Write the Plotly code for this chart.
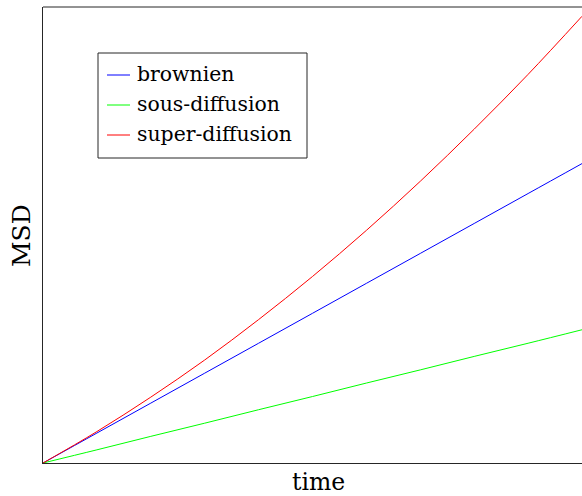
import plotly.graph_objects as go

# Mean squared displacement vs time for three diffusion regimes
time = [0, 1, 2, 3, 4, 5, 6, 7, 8, 9, 10]
msd_brownien = [0, 1.0, 2.0, 3.0, 4.0, 5.0, 6.0, 7.0, 8.0, 9.0, 10.0]
msd_sous = [0, 0.44, 0.89, 1.33, 1.78, 2.22, 2.67, 3.11, 3.56, 4.0, 4.45]
msd_super = [0, 1.05, 2.20, 3.44, 4.79, 6.23, 7.77, 9.41, 11.15, 12.98, 14.92]

series_names = ["brownien", "sous-diffusion", "super-diffusion"]
series_colors = ["#0000ff", "#00ff00", "#ff0000"]
series_values = [msd_brownien, msd_sous, msd_super]

W, H = 582, 496
ML, MR, MT, MB = 43, 0, 7, 33
PW, PH = W - ML - MR, H - MT - MB
FONT = "DejaVu Serif"
FRAME = "#262626"


def px_x(px):
    return (px - ML) / PW


def px_y(py):
    return (H - MB - py) / PH


fig = go.Figure()
for name, color, vals in zip(series_names, series_colors, series_values):
    fig.add_trace(go.Scatter(
        x=time, y=vals, mode="lines", name=name,
        line=dict(color=color, width=1, shape="spline"),
        showlegend=False, hoverinfo="skip",
    ))

shapes = [
    # top edge of the frame
    dict(type="line", xref="paper", yref="paper", x0=0, x1=1, y0=1, y1=1,
         line=dict(color=FRAME, width=1)),
    # legend box
    dict(type="rect", xref="paper", yref="paper",
         x0=px_x(98), x1=px_x(307), y0=px_y(53), y1=px_y(158),
         line=dict(color=FRAME, width=1), fillcolor="white"),
]
annotations = []
row_y = [75, 105, 135]
for name, color, ry in zip(series_names, series_colors, row_y):
    shapes.append(dict(type="line", xref="paper", yref="paper",
                       x0=px_x(107), x1=px_x(130), y0=px_y(ry), y1=px_y(ry),
                       line=dict(color=color, width=1)))
    annotations.append(dict(text=name, xref="paper", yref="paper",
                            x=px_x(135), y=px_y(ry - 1), xanchor="left", yanchor="middle",
                            showarrow=False, font=dict(family=FONT, size=20.4, color="black")))

annotations.append(dict(text="time", xref="paper", yref="paper",
                        x=px_x(318), y=px_y(482), xanchor="center", yanchor="middle",
                        showarrow=False, font=dict(family=FONT, size=23.5, color="black")))
annotations.append(dict(text="MSD", xref="paper", yref="paper",
                        x=px_x(21), y=px_y(236), xanchor="center", yanchor="middle",
                        textangle=-90, showarrow=False,
                        font=dict(family=FONT, size=25, color="black")))

axis_common = dict(showgrid=False, zeroline=False, showticklabels=False, ticks="",
                   showline=True, linecolor=FRAME, linewidth=1)

fig.update_layout(
    width=W, height=H,
    margin=dict(l=ML, r=MR, t=MT, b=MB, pad=0),
    paper_bgcolor="white", plot_bgcolor="white",
    xaxis=dict(range=[0, 10], **axis_common),
    yaxis=dict(range=[0, 15.23], **axis_common),
    shapes=shapes, annotations=annotations,
    showlegend=False,
)

fig.write_html("out.html")
